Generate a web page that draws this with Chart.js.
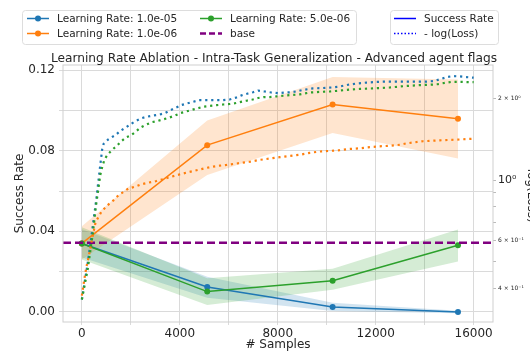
<!DOCTYPE html>
<html>
<head>
<meta charset="utf-8">
<script src="https://cdn.jsdelivr.net/npm/chart.js@4.4.0/dist/chart.umd.min.js"></script>
<style>
  html, body { margin: 0; padding: 0; background: #fff; }
  #wrap { width: 530px; height: 352px; }
</style>
</head>
<body>
<div id="wrap"><canvas id="chart" width="530" height="352"></canvas></div>
<script>
'use strict';

const title = 'Learning Rate Ablation - Intra-Task Generalization - Advanced agent flags';
const labels = ['Learning Rate: 1.0e-05', 'Learning Rate: 1.0e-06', 'Learning Rate: 5.0e-06', 'base'];

// success rate, evaluated at these sample counts
const steps = [0, 5120, 10240, 15360];
const srLr1e5 = [0.034, 0.0124, 0.0025, 0.0];
const srLr1e6 = [0.034, 0.0828, 0.103, 0.0959];
const srLr5e6 = [0.034, 0.0101, 0.0155, 0.0331];
const hiLr1e5 = [0.041, 0.0175, 0.0045, 0.0006];
const loLr1e5 = [0.027, 0.0070, 0.0005, -0.0006];
const hiLr1e6 = [0.0425, 0.095, 0.1167, 0.1154];
const loLr1e6 = [0.026, 0.068, 0.0889, 0.0762];
const hiLr5e6 = [0.042, 0.0167, 0.0214, 0.0409];
const loLr5e6 = [0.026, 0.0035, 0.011, 0.0251];
const baseRate = 0.0343;

// -log(loss) curves
const lossStepsLr1e5 = [0, 230, 420, 600, 735, 830, 890, 1090, 1390, 1580, 1800, 1990, 2200, 2440, 2640, 2910, 3160, 3390, 3590, 3840,
    4070, 4300, 4540, 4790, 5760, 6040, 6290, 6520, 6750, 6990, 7200, 7470, 7740, 8010, 8290, 8560, 8790, 9030, 9440, 9850,
    10190, 10530, 10870, 11210, 11620, 12030, 12440, 14070, 14410, 14680, 14950, 15160, 15430, 15700, 16000];
const lossLr1e5 = [0.363, 0.488, 0.649, 0.863, 1.103, 1.298, 1.360, 1.415, 1.468, 1.520, 1.562, 1.606, 1.650, 1.690, 1.710, 1.728, 1.742, 1.766, 1.803, 1.848,
    1.890, 1.916, 1.942, 1.969, 1.969, 1.980, 2.013, 2.051, 2.080, 2.107, 2.137, 2.120, 2.102, 2.090, 2.102, 2.107, 2.124, 2.148, 2.176, 2.183,
    2.193, 2.211, 2.244, 2.268, 2.286, 2.300, 2.305, 2.305, 2.318, 2.361, 2.400, 2.415, 2.409, 2.396, 2.383];
const lossStepsLr1e6 = [0, 120, 190, 260, 330, 400, 470, 560, 790, 1020, 1290, 1500, 1770, 1890, 2200, 2440, 2710, 3050, 3320, 3590,
    3870, 4270, 4540, 4820, 5090, 5360, 5630, 5910, 6180, 6450, 6860, 7270, 7670, 8080, 8490, 8900, 9310, 9710, 10120, 10530,
    10940, 11350, 11760, 12160, 12570, 12980, 13250, 13930, 14610, 15290, 16000];
const lossLr1e6 = [0.375, 0.442, 0.480, 0.513, 0.550, 0.596, 0.638, 0.700, 0.762, 0.804, 0.842, 0.880, 0.914, 0.929, 0.947, 0.965, 0.978, 0.992, 1.008, 1.025,
    1.042, 1.065, 1.079, 1.094, 1.109, 1.121, 1.130, 1.137, 1.146, 1.155, 1.168, 1.187, 1.200, 1.214, 1.227, 1.239, 1.260, 1.274, 1.281, 1.288,
    1.302, 1.309, 1.323, 1.331, 1.338, 1.349, 1.365, 1.390, 1.401, 1.409, 1.420];
const lossStepsLr5e6 = [0, 240, 450, 570, 680, 750, 845, 930, 1060, 1220, 1430, 1600, 1800, 1990, 2200, 2400, 2640, 2870, 3090, 3320,
    3550, 3800, 4030, 4270, 4500, 4750, 4980, 5220, 5500, 5770, 6040, 6250, 6450, 6720, 6970, 7200, 7430, 7670, 7950, 8220,
    8490, 8900, 9310, 9710, 10120, 10530, 10940, 11350, 11760, 12160, 12570, 12980, 13390, 13800, 14200, 14540, 14820, 15090, 15430, 16000];
const lossLr5e6 = [0.363, 0.470, 0.638, 0.796, 0.937, 1.042, 1.130, 1.194, 1.243, 1.288, 1.338, 1.386, 1.436, 1.459, 1.507, 1.563, 1.602, 1.636, 1.650, 1.673,
    1.696, 1.728, 1.766, 1.790, 1.815, 1.840, 1.865, 1.876, 1.887, 1.898, 1.906, 1.918, 1.937, 1.960, 1.980, 2.006, 2.022, 2.022, 2.034, 2.045,
    2.055, 2.068, 2.102, 2.113, 2.120, 2.137, 2.154, 2.166, 2.173, 2.183, 2.193, 2.211, 2.226, 2.237, 2.244, 2.256, 2.281, 2.300, 2.300, 2.294];

// axes
const xTicks = [0, 2000, 4000, 6000, 8000, 10000, 12000, 14000, 16000];
const xTickLabels = ['0', '', '4000', '', '8000', '', '12000', '', '16000'];
const yTicks = [0, 0.02, 0.04, 0.06, 0.08, 0.10, 0.12];
const yTickLabels = ['0.00', '', '0.04', '', '0.08', '', '0.12'];
const lossTicks = [0.4, 0.5, 0.6, 0.7, 0.8, 0.9, 1, 2];
const lossTickLabels = ['4 \u00d7 10\u207b\u00b9', '', '6 \u00d7 10\u207b\u00b9', '', '', '', '10\u2070', '2 \u00d7 10\u2070'];
const xMin = -770, xMax = 16790;
const yMin = -0.005, yMax = 0.1226;
const lossMin = 0.326, lossMax = 2.654;

const BLUE = '#1f77b4', ORANGE = '#ff7f0e', GREEN = '#2ca02c', PURPLE = '#800080';
const INK = '#262626';
const GRID = '#dadada';
const FONT = '"DejaVu Sans", sans-serif';

Chart.defaults.font.family = FONT;

function pts(xs, ys) {
    return xs.map((x, i) => ({ x: x, y: ys[i] }));
}

function band(lo, hi, color, order) {
    return [
        { data: pts(steps, hi), yAxisID: 'y', borderWidth: 0, pointRadius: 0, fill: false, order: order },
        { data: pts(steps, lo), yAxisID: 'y', borderWidth: 0, pointRadius: 0, fill: '-1', backgroundColor: color, order: order }
    ];
}

function rateLine(label, ys, color, order) {
    return {
        label: label, data: pts(steps, ys), yAxisID: 'y', borderColor: color, backgroundColor: color,
        borderWidth: 1.5, pointRadius: 3, pointBorderWidth: 0, pointBackgroundColor: color, fill: false, order: order
    };
}

function lossLine(xs, ys, color, order) {
    return {
        data: pts(xs, ys), yAxisID: 'yLoss', borderColor: color, borderWidth: 2.2, borderDash: [2.2, 3.8],
        borderCapStyle: 'butt', pointRadius: 0, fill: false, order: order
    };
}

const datasets = [].concat(
    band(loLr1e5, hiLr1e5, 'rgba(31,119,180,0.2)', 20),
    band(loLr1e6, hiLr1e6, 'rgba(255,127,14,0.2)', 19),
    band(loLr5e6, hiLr5e6, 'rgba(44,160,44,0.2)', 18),
    [
        rateLine(labels[0], srLr1e5, BLUE, 12),
        rateLine(labels[1], srLr1e6, ORANGE, 11),
        rateLine(labels[2], srLr5e6, GREEN, 10),
        {
            label: labels[3], data: [{ x: xMin, y: baseRate }, { x: xMax, y: baseRate }], yAxisID: 'y',
            borderColor: PURPLE, borderWidth: 2.5, borderDash: [8, 4], pointRadius: 0, fill: false, order: 5
        },
        lossLine(lossStepsLr1e5, lossLr1e5, BLUE, 3),
        lossLine(lossStepsLr1e6, lossLr1e6, ORANGE, 2),
        lossLine(lossStepsLr5e6, lossLr5e6, GREEN, 1)
    ]
);

function legendBox(ctx, x, y, w, h) {
    ctx.beginPath();
    ctx.roundRect(x, y, w, h, 3);
    ctx.fillStyle = 'rgba(255,255,255,0.85)';
    ctx.fill();
    ctx.strokeStyle = '#dddddd';
    ctx.lineWidth = 1;
    ctx.stroke();
}

function legendEntry(ctx, x, y, text, color, opts) {
    ctx.save();
    ctx.strokeStyle = color;
    ctx.lineWidth = opts.width;
    ctx.setLineDash(opts.dash || []);
    ctx.beginPath();
    ctx.moveTo(x, y);
    ctx.lineTo(x + 22, y);
    ctx.stroke();
    if (opts.marker) {
        ctx.fillStyle = color;
        ctx.beginPath();
        ctx.arc(x + 11, y, 3, 0, Math.PI * 2);
        ctx.fill();
    }
    ctx.fillStyle = INK;
    ctx.font = '10.5px ' + FONT;
    ctx.textAlign = 'left';
    ctx.textBaseline = 'alphabetic';
    ctx.fillText(text, x + 30, y + 3.8);
    ctx.restore();
}

const decor = {
    id: 'decor',
    afterDraw(chart) {
        const ctx = chart.ctx;
        const a = chart.chartArea;
        ctx.save();
        ctx.strokeStyle = '#cfcfcf';
        ctx.lineWidth = 1;
        ctx.strokeRect(a.left, a.top, a.right - a.left, a.bottom - a.top);

        ctx.fillStyle = INK;
        ctx.font = '12.2px ' + FONT;
        ctx.textAlign = 'center';
        ctx.textBaseline = 'alphabetic';
        ctx.fillText(title, 274, 62);

        legendBox(ctx, 22.5, 10.5, 334, 34);
        legendEntry(ctx, 27, 18.5, labels[0], BLUE, { width: 1.5, marker: true });
        legendEntry(ctx, 27, 33.5, labels[1], ORANGE, { width: 1.5, marker: true });
        legendEntry(ctx, 200, 18.5, labels[2], GREEN, { width: 1.5, marker: true });
        legendEntry(ctx, 200, 33.5, labels[3], PURPLE, { width: 2.5, dash: [6, 3] });

        legendBox(ctx, 390.5, 10.5, 108, 34);
        legendEntry(ctx, 394, 18.5, 'Success Rate', '#0000ff', { width: 1.5 });
        legendEntry(ctx, 394, 33.5, '- log(Loss)', '#0000ff', { width: 1.5, dash: [1.5, 2] });
        ctx.restore();
    }
};

new Chart(document.getElementById('chart'), {
    type: 'line',
    data: { datasets: datasets },
    plugins: [decor],
    options: {
        responsive: false,
        animation: false,
        layout: { padding: { top: 65, left: 0, right: 0, bottom: 0 } },
        elements: { line: { tension: 0 } },
        plugins: {
            legend: { display: false },
            tooltip: { enabled: false },
            title: { display: false }
        },
        scales: {
            x: {
                type: 'linear', min: xMin, max: xMax,
                afterBuildTicks: (s) => { s.ticks = xTicks.map((v) => ({ value: v })); },
                afterFit: (s) => { s.height = 30; },
                ticks: {
                    callback: (v, i) => xTickLabels[i], color: INK, font: { size: 12 },
                    padding: 2, autoSkip: false, maxRotation: 0
                },
                grid: { color: GRID, tickLength: 3 },
                border: { display: false },
                title: { display: true, text: '# Samples', color: INK, font: { size: 12 }, padding: 0 }
            },
            y: {
                type: 'linear', position: 'left', min: yMin, max: yMax,
                afterBuildTicks: (s) => { s.ticks = yTicks.map((v) => ({ value: v })); },
                afterFit: (s) => { s.width = 63; },
                ticks: { callback: (v, i) => yTickLabels[i], color: INK, font: { size: 12 }, padding: 4, autoSkip: false },
                grid: { color: GRID, tickLength: 4 },
                border: { display: false },
                title: { display: true, text: 'Success Rate', color: INK, font: { size: 12 }, padding: { top: 12.8, bottom: 0 } }
            },
            yLoss: {
                type: 'logarithmic', position: 'right', min: lossMin, max: lossMax,
                afterBuildTicks: (s) => { s.ticks = lossTicks.map((v) => ({ value: v, major: v === 1 })); },
                afterFit: (s) => { s.width = 37; },
                ticks: {
                    callback: (v, i) => lossTickLabels[i], color: INK, padding: 2, autoSkip: false,
                    font: (c) => ({ size: c.tick && c.tick.value === 1 ? 11 : 6 })
                },
                grid: { drawOnChartArea: false, color: '#bbbbbb', tickLength: 3 },
                border: { display: false },
                title: { display: true, text: '-log(Loss)', color: INK, font: { size: 12 }, padding: { top: -8, bottom: 0 } }
            }
        }
    }
});
</script>
</body>
</html>
